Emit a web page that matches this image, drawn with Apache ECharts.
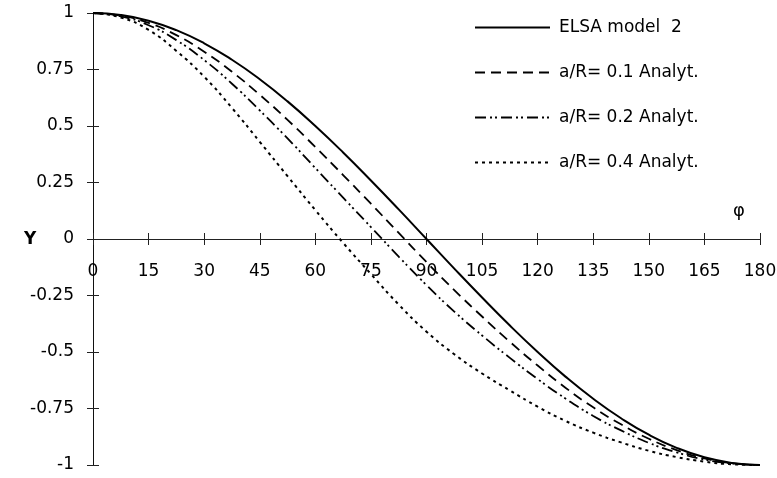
<!DOCTYPE html>
<html>
<head>
<meta charset="utf-8">
<script src="https://cdn.jsdelivr.net/npm/echarts@6/dist/echarts.min.js"></script>
<style>html,body{margin:0;padding:0;background:#fff}#c{width:777px;height:478px}</style>
</head>
<body>
<div id="c"></div>
<script>
var phi = [0,7.5,15,22.5,30,37.5,45,52.5,60,67.5,75,82.5,90,97.5,105,112.5,120,127.5,135,142.5,150,157.5,165,172.5,180];
var elsaModel2 = [1,0.991,0.966,0.924,0.866,0.793,0.707,0.609,0.5,0.383,0.259,0.131,0,-0.131,-0.259,-0.383,-0.5,-0.609,-0.707,-0.793,-0.866,-0.924,-0.966,-0.991,-1];
var analyt01 = [1,0.988,0.956,0.902,0.829,0.740,0.638,0.527,0.407,0.283,0.156,0.027,-0.102,-0.226,-0.343,-0.455,-0.560,-0.658,-0.745,-0.820,-0.884,-0.934,-0.971,-0.992,-1];
var analyt02 = [1,0.985,0.946,0.880,0.792,0.687,0.569,0.445,0.314,0.183,0.053,-0.078,-0.204,-0.321,-0.427,-0.526,-0.620,-0.706,-0.783,-0.847,-0.902,-0.944,-0.976,-0.993,-1];
var analyt04 = [1,0.980,0.925,0.832,0.718,0.580,0.430,0.278,0.128,-0.017,-0.155,-0.290,-0.410,-0.510,-0.595,-0.670,-0.742,-0.805,-0.857,-0.900,-0.937,-0.965,-0.985,-0.997,-1];
var seriesNames = ['ELSA model  2','a/R= 0.1 Analyt.','a/R= 0.2 Analyt.','a/R= 0.4 Analyt.'];
var xTicks = [0,15,30,45,60,75,90,105,120,135,150,165,180];
var yTicks = [-1,-0.75,-0.5,-0.25,0,0.25,0.5,0.75,1];

function pairs(ys){ return phi.map(function(p,i){ return [p, ys[i]]; }); }
var FONT = 'DejaVu Sans';
var GRID_H = 478 - 13 - 13;
var ZERO_OFFSET = -GRID_H / 2; // y = 0 lies at the middle of the symmetric y range
var chart = echarts.init(document.getElementById('c'), null, {renderer:'canvas'});
var xBase = {
  type:'value', min:xTicks[0], max:xTicks[xTicks.length-1], interval:xTicks[1]-xTicks[0],
  splitLine:{show:false}, position:'bottom', offset:ZERO_OFFSET,
  axisLine:{onZero:false, lineStyle:{color:'#222', width:1}}
};
var yBase = {
  type:'value', min:yTicks[0], max:yTicks[yTicks.length-1], interval:yTicks[1]-yTicks[0],
  splitLine:{show:false}, position:'left',
  axisLine:{onZero:false, lineStyle:{color:'#111', width:1}}
};
function lineSeries(name, ys, type, width){
  return {name:name, type:'line', data:pairs(ys), smooth:true, symbol:'none', showSymbol:false,
    xAxisIndex:0, yAxisIndex:0,
    lineStyle:{color:'#000', width:width, type:type}, itemStyle:{color:'#000'}, animation:false};
}
chart.setOption({
  animation:false,
  grid:{left:93, right:17, top:13, bottom:13, containLabel:false, outerBoundsMode:'none'},
  legend:{
    orient:'vertical', left:469, top:14, itemWidth:75, itemHeight:16, itemGap:28,
    data:seriesNames,
    itemStyle:{opacity:0},
    textStyle:{fontFamily:FONT, fontSize:17, color:'#000', padding:[0,0,0,4]}
  },
  xAxis:[
    Object.assign({}, xBase, {
      axisTick:{show:true, inside:false, length:6, lineStyle:{color:'#222'}},
      axisLabel:{show:true, margin:24, color:'#000', fontFamily:FONT, fontSize:17,
        formatter:function(v){ return String(v); }}}),
    Object.assign({}, xBase, {
      axisTick:{show:true, inside:true, length:6, lineStyle:{color:'#222'}},
      axisLabel:{show:false}})
  ],
  yAxis:[
    Object.assign({}, yBase, {
      axisTick:{show:true, inside:false, length:6, lineStyle:{color:'#222'}},
      axisLabel:{show:true, margin:19, color:'#000', fontFamily:FONT, fontSize:17,
        formatter:function(v){ return String(v); }}}),
    Object.assign({}, yBase, {
      axisTick:{show:true, inside:true, length:6, lineStyle:{color:'#222'}},
      axisLabel:{show:false}})
  ],
  graphic:[
    {type:'text', left:24, top:231, style:{text:'Y', font:'bold 17px "DejaVu Sans"', fill:'#000'}},
    {type:'text', left:733, top:202, style:{text:'φ', font:'18px "DejaVu Sans"', fill:'#000'}}
  ],
  series:[
    lineSeries(seriesNames[0], elsaModel2, 'solid', 2),
    lineSeries(seriesNames[1], analyt01, [10,6], 1.8),
    lineSeries(seriesNames[2], analyt02, [11,4,2,3,2,4], 1.8),
    lineSeries(seriesNames[3], analyt04, [3,4], 2)
  ]
});
</script>
</body>
</html>
